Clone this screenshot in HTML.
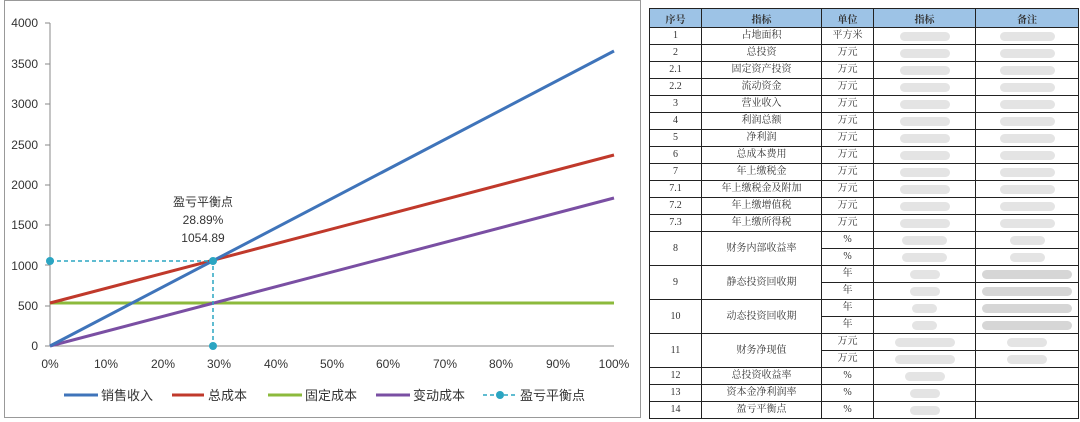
<!DOCTYPE html>
<html><head><meta charset="utf-8"><style>
body{margin:0;width:1080px;height:422px;background:#fff;overflow:hidden;font-family:"Liberation Sans","Noto Sans CJK SC",sans-serif}
table{position:absolute;left:649px;top:8px;border-collapse:collapse;font-size:10px;color:#333;font-family:"Liberation Serif","Noto Serif CJK SC",serif}
td{border:1px solid #222;text-align:center;padding:0;height:16px;line-height:16px}
th{border:1px solid #222;background:#9dc3e6;height:16px;font-size:10px;font-weight:bold}
.b{background:#ddd;border-radius:6px;height:9px;margin:0 auto;opacity:.8}
</style></head><body>
<svg width="645" height="422" style="position:absolute;left:0;top:0">
<rect x="4.5" y="0.5" width="636" height="417" fill="none" stroke="#999"/>
<g font-size="12" fill="#333" text-anchor="end" font-family="Liberation Sans, sans-serif">
<text x="38" y="350">0</text><text x="38" y="310">500</text><text x="38" y="270">1000</text><text x="38" y="229">1500</text><text x="38" y="189">2000</text><text x="38" y="149">2500</text><text x="38" y="108">3000</text><text x="38" y="68">3500</text><text x="38" y="27">4000</text>
</g>
<line x1="50" y1="23" x2="50" y2="346" stroke="#888"/>
<line x1="50" y1="346" x2="614" y2="346" stroke="#888"/>
<g stroke="#888">
<line x1="45" y1="346" x2="50" y2="346"/><line x1="45" y1="306" x2="50" y2="306"/><line x1="45" y1="265" x2="50" y2="265"/><line x1="45" y1="225" x2="50" y2="225"/><line x1="45" y1="185" x2="50" y2="185"/><line x1="45" y1="145" x2="50" y2="145"/><line x1="45" y1="104" x2="50" y2="104"/><line x1="45" y1="64" x2="50" y2="64"/><line x1="45" y1="23" x2="50" y2="23"/>
</g>
<g font-size="12" fill="#333" text-anchor="middle">
<text x="50" y="368">0%</text><text x="106" y="368">10%</text><text x="163" y="368">20%</text><text x="219" y="368">30%</text><text x="276" y="368">40%</text><text x="332" y="368">50%</text><text x="388" y="368">60%</text><text x="445" y="368">70%</text><text x="501" y="368">80%</text><text x="558" y="368">90%</text><text x="614" y="368">100%</text>
</g>
<line x1="50" y1="303" x2="614" y2="303" stroke="#8cba3c" stroke-width="3"/>
<line x1="50" y1="346" x2="614" y2="198" stroke="#7a4fa3" stroke-width="3"/>
<line x1="50" y1="303" x2="614" y2="155" stroke="#c0392b" stroke-width="3"/>
<line x1="50" y1="346" x2="614" y2="51" stroke="#3f74ba" stroke-width="3"/>
<g stroke="#2ba5c2" stroke-width="1.5" stroke-dasharray="4,3" fill="none">
<polyline points="50,261 213,261 213,346"/></g>
<g fill="#2ba5c2"><circle cx="50" cy="261" r="4"/><circle cx="213" cy="261" r="4"/><circle cx="213" cy="346" r="4"/></g>
<g font-size="12" fill="#333" text-anchor="middle"><text x="203" y="206">盈亏平衡点</text><text x="203" y="224">28.89%</text><text x="203" y="242">1054.89</text></g>
<g stroke-width="3">
<line x1="64" y1="395" x2="98" y2="395" stroke="#3f74ba"/>
<line x1="172" y1="395" x2="204" y2="395" stroke="#c0392b"/>
<line x1="268" y1="395" x2="302" y2="395" stroke="#8cba3c"/>
<line x1="376" y1="395" x2="410" y2="395" stroke="#7a4fa3"/>
<line x1="483" y1="395" x2="517" y2="395" stroke="#2ba5c2" stroke-width="1.5" stroke-dasharray="4,3"/>
</g><circle cx="500" cy="395" r="4" fill="#2ba5c2"/>
<g font-size="13" fill="#333"><text x="101" y="400">销售收入</text><text x="208" y="400">总成本</text><text x="305" y="400">固定成本</text><text x="413" y="400">变动成本</text><text x="520" y="400">盈亏平衡点</text></g>
</svg>
<table>
<tr><th style="width:49px">序号</th><th style="width:117px">指标</th><th style="width:49px">单位</th><th style="width:99px">指标</th><th style="width:100px">备注</th></tr>
<tr><td>1</td><td>占地面积</td><td>平方米</td><td><div class="b" style="width:50px"></div></td><td><div class="b" style="width:55px"></div></td></tr>
<tr><td>2</td><td>总投资</td><td>万元</td><td><div class="b" style="width:50px"></div></td><td><div class="b" style="width:55px"></div></td></tr>
<tr><td>2.1</td><td>固定资产投资</td><td>万元</td><td><div class="b" style="width:50px"></div></td><td><div class="b" style="width:55px"></div></td></tr>
<tr><td>2.2</td><td>流动资金</td><td>万元</td><td><div class="b" style="width:50px"></div></td><td><div class="b" style="width:55px"></div></td></tr>
<tr><td>3</td><td>营业收入</td><td>万元</td><td><div class="b" style="width:50px"></div></td><td><div class="b" style="width:55px"></div></td></tr>
<tr><td>4</td><td>利润总额</td><td>万元</td><td><div class="b" style="width:50px"></div></td><td><div class="b" style="width:55px"></div></td></tr>
<tr><td>5</td><td>净利润</td><td>万元</td><td><div class="b" style="width:50px"></div></td><td><div class="b" style="width:55px"></div></td></tr>
<tr><td>6</td><td>总成本费用</td><td>万元</td><td><div class="b" style="width:50px"></div></td><td><div class="b" style="width:55px"></div></td></tr>
<tr><td>7</td><td>年上缴税金</td><td>万元</td><td><div class="b" style="width:50px"></div></td><td><div class="b" style="width:55px"></div></td></tr>
<tr><td>7.1</td><td>年上缴税金及附加</td><td>万元</td><td><div class="b" style="width:50px"></div></td><td><div class="b" style="width:55px"></div></td></tr>
<tr><td>7.2</td><td>年上缴增值税</td><td>万元</td><td><div class="b" style="width:50px"></div></td><td><div class="b" style="width:55px"></div></td></tr>
<tr><td>7.3</td><td>年上缴所得税</td><td>万元</td><td><div class="b" style="width:50px"></div></td><td><div class="b" style="width:55px"></div></td></tr>
<tr><td rowspan="2">8</td><td rowspan="2">财务内部收益率</td><td>%</td><td><div class="b" style="width:45px"></div></td><td><div class="b" style="width:35px"></div></td></tr>
<tr><td>%</td><td><div class="b" style="width:45px"></div></td><td><div class="b" style="width:35px"></div></td></tr>
<tr><td rowspan="2">9</td><td rowspan="2">静态投资回收期</td><td>年</td><td><div class="b" style="width:30px"></div></td><td><div class="b" style="width:90px;background:#ccc"></div></td></tr>
<tr><td>年</td><td><div class="b" style="width:30px"></div></td><td><div class="b" style="width:90px;background:#ccc"></div></td></tr>
<tr><td rowspan="2">10</td><td rowspan="2">动态投资回收期</td><td>年</td><td><div class="b" style="width:25px"></div></td><td><div class="b" style="width:90px;background:#ccc"></div></td></tr>
<tr><td>年</td><td><div class="b" style="width:25px"></div></td><td><div class="b" style="width:90px;background:#ccc"></div></td></tr>
<tr><td rowspan="2">11</td><td rowspan="2">财务净现值</td><td>万元</td><td><div class="b" style="width:60px"></div></td><td><div class="b" style="width:40px"></div></td></tr>
<tr><td>万元</td><td><div class="b" style="width:60px"></div></td><td><div class="b" style="width:40px"></div></td></tr>
<tr><td>12</td><td>总投资收益率</td><td>%</td><td><div class="b" style="width:40px"></div></td><td></td></tr>
<tr><td>13</td><td>资本金净利润率</td><td>%</td><td><div class="b" style="width:30px"></div></td><td></td></tr>
<tr><td>14</td><td>盈亏平衡点</td><td>%</td><td><div class="b" style="width:30px"></div></td><td></td></tr>
</table>
</body></html>
